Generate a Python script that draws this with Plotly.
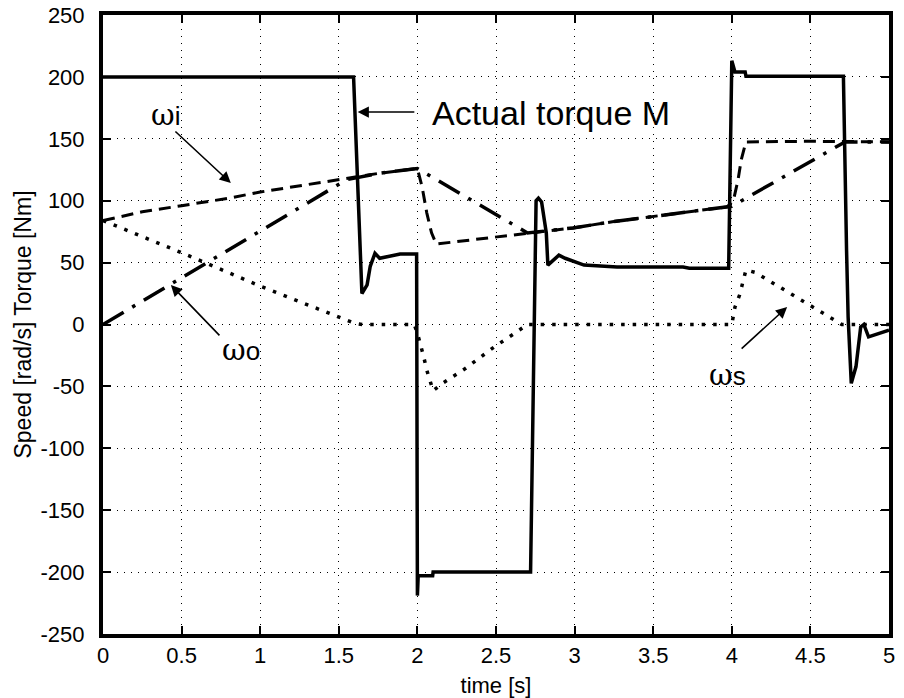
import plotly.graph_objects as go

# ---- data ----
t_M = [0, 1.594, 1.647, 1.68, 1.70, 1.73, 1.76, 1.83, 1.89, 1.985, 1.995, 2.0, 2.005, 2.097, 2.1,
       2.72, 2.755, 2.77, 2.79, 2.82, 2.83, 2.9, 2.94, 3.06, 3.27, 3.69, 3.73, 3.98, 4.0, 4.02,
       4.085, 4.09, 4.71, 4.73, 4.74, 4.76, 4.79, 4.82, 4.84, 4.87, 4.94, 5.0]
M = [200, 200, 25, 32, 47, 57.5, 53.5, 55, 57, 57, 57, -219, -203, -203, -200,
     -200, 100, 102, 99, 74, 48, 56, 53.5, 48, 46.5, 46.5, 45.5, 45.5, 213, 204,
     204, 200.5, 200.5, 60, 6, -47.5, -34, -2, 0, -10, -7, -4.5]

t_wi = [0, 0.25, 0.5, 0.8, 1.0, 1.25, 1.5, 1.75, 2.0, 2.03, 2.06, 2.09, 2.12, 2.25, 2.4, 2.53,
        2.7, 2.99, 3.24, 3.48, 3.73, 3.97, 4.01, 4.04, 4.06, 4.09, 4.5, 5.0]
wi = [84, 91, 96, 102, 107, 112, 117, 122, 126, 111, 90, 74, 65, 67, 69, 71,
      74, 78, 83, 87, 91, 95, 100, 117, 133, 147.5, 148, 147.5]

t_wo = [0, 1.55, 1.75, 2.0, 2.7, 2.99, 3.24, 3.48, 3.73, 3.97, 4.0, 4.72, 5.0]
wo = [0, 117, 122, 126, 74, 78, 83, 87, 91, 95, 95.5, 147.5, 147.5]

t_ws = [0, 0.5, 1.0, 1.5, 1.6, 1.65, 1.98, 2.0, 2.02, 2.04, 2.06, 2.08, 2.1, 2.16, 2.3, 2.49,
        2.56, 2.62, 2.7, 4.0, 4.02, 4.05, 4.07, 4.09, 4.15, 4.35, 4.6, 4.7, 5.0]
ws = [84, 58, 31, 6, 1, 0, 0, -7, -16, -26, -37, -46, -53.5, -47.5, -36, -18,
      -12.5, -7, 0, 0, 14, 24, 34, 44, 42, 27, 8, 0, 0]

x_ticks = [0, 0.5, 1, 1.5, 2, 2.5, 3, 3.5, 4, 4.5, 5]
x_ticklabels = ["0", "0.5", "1", "1.5", "2", "2.5", "3", "3.5", "4", "4.5", "5"]
y_ticks = [-250, -200, -150, -100, -50, 0, 50, 100, 150, 200, 250]
y_ticklabels = ["-250", "-200", "-150", "-100", "-50", "0", "50", "100", "150", "200", "250"]

SANS = "Liberation Sans, Arial, sans-serif"
OMEGA = "<span style=\"font-family:'DejaVu Serif', serif;font-size:29px\">ω</span>"

fig = go.Figure()
fig.add_trace(go.Scatter(x=t_ws, y=ws, mode="lines", name="ωs",
                         line=dict(color="black", width=3.5, dash="3.5px,8px")))
fig.add_trace(go.Scatter(x=t_wo, y=wo, mode="lines", name="ωo",
                         line=dict(color="black", width=3.5, dash="24px,10px,3.5px,10px")))
fig.add_trace(go.Scatter(x=t_wi, y=wi, mode="lines", name="ωi",
                         line=dict(color="black", width=3, dash="12px,7px")))
fig.add_trace(go.Scatter(x=t_M, y=M, mode="lines", name="M",
                         line=dict(color="black", width=3.5)))

axis_common = dict(
    showline=True, linecolor="black", linewidth=4, mirror="allticks",
    ticks="inside", ticklen=8, tickwidth=2, tickcolor="black",
    showgrid=True, gridcolor="black", gridwidth=1, griddash="1px,6px",
    zeroline=False, tickfont=dict(family=SANS, size=22, color="black"),
    automargin=False,
)

fig.update_xaxes(range=[0, 5], tickvals=x_ticks, ticktext=x_ticklabels,
                 title=dict(text="time [s]", font=dict(family=SANS, size=22, color="black"), standoff=13),
                 ticklabelstandoff=-1, **axis_common)
fig.update_yaxes(range=[-250, 250], tickvals=y_ticks, ticktext=y_ticklabels,
                 title=dict(text="Speed [rad/s] Torque [Nm]", font=dict(family=SANS, size=23, color="black"), standoff=4),
                 ticklabelstandoff=10, **axis_common)

arrow = dict(showarrow=True, arrowhead=2, arrowsize=1.4, arrowwidth=1.6, arrowcolor="black",
             axref="x", ayref="y", xref="x", yref="y", text="", standoff=0, startstandoff=0)

annotations = [
    dict(x=1.62, y=171.6, ax=1.99, ay=171.6, **arrow),
    dict(x=0.813, y=114.3, ax=0.451, ay=157, **arrow),
    dict(x=0.432, y=31.9, ax=0.75, ay=-10, **arrow),
    dict(x=4.352, y=14.1, ax=4.053, ay=-20.6, **arrow),
    dict(x=2.08, y=170.8, text="Actual torque M", showarrow=False, xanchor="left", yanchor="middle",
         font=dict(family=SANS, size=34, color="black")),
    dict(x=0.40, y=169, text=OMEGA + "i", showarrow=False, xanchor="center", yanchor="middle",
         font=dict(family=SANS, size=26, color="black"), borderpad=0),
    dict(x=0.877, y=-20.6, text=OMEGA + "o", showarrow=False, xanchor="center", yanchor="middle",
         font=dict(family=SANS, size=26, color="black"), borderpad=0),
    dict(x=3.97, y=-40.8, text=OMEGA + "s", showarrow=False, xanchor="center", yanchor="middle",
         font=dict(family=SANS, size=26, color="black"), borderpad=0),
]

fig.update_layout(
    width=904, height=698,
    margin=dict(l=103, r=15, t=15, b=64, pad=0),
    paper_bgcolor="white", plot_bgcolor="white",
    showlegend=False,
    annotations=annotations,
    font=dict(family=SANS, color="black"),
)

fig.write_html("out.html")
